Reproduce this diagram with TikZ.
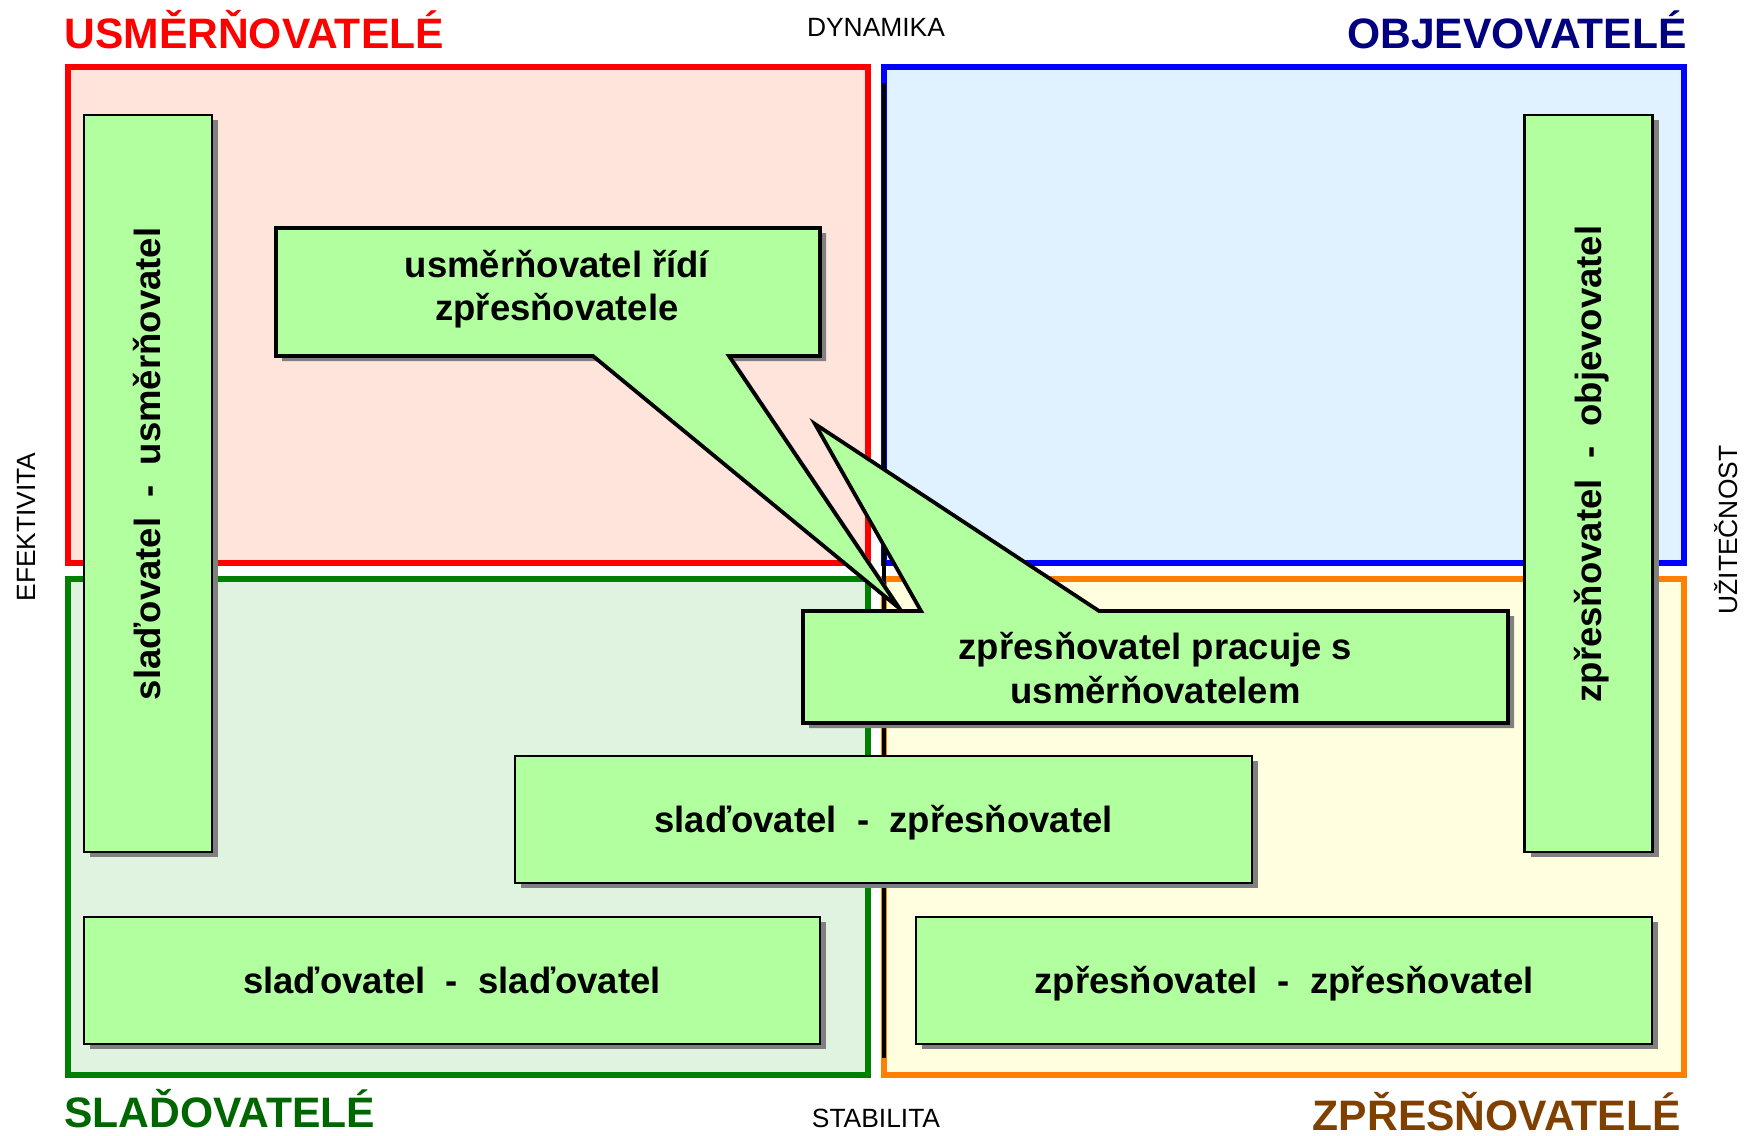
\documentclass[tikz,border=0pt]{standalone}
\usepackage{fontspec}
\setmainfont{Liberation Sans}
\usetikzlibrary{shadows}
\definecolor{qred}{RGB}{255,0,0}
\definecolor{qblue}{RGB}{0,0,255}
\definecolor{qgreen}{RGB}{0,128,0}
\definecolor{qorange}{RGB}{255,128,0}
\definecolor{fred}{RGB}{255,228,220}
\definecolor{fblue}{RGB}{224,242,255}
\definecolor{fgreen}{RGB}{224,242,224}
\definecolor{forange}{RGB}{255,255,224}
\definecolor{tred}{RGB}{255,0,0}
\definecolor{tnavy}{RGB}{0,0,128}
\definecolor{tgreen}{RGB}{0,102,0}
\definecolor{tbrown}{RGB}{128,64,0}
\definecolor{boxgreen}{RGB}{178,255,160}
\definecolor{shadowgray}{RGB}{128,128,128}
\begin{document}
\begin{tikzpicture}[x=0.5pt,y=-0.5pt,
  quadrant/.style={rectangle, line width=2.85pt, minimum width=400pt, minimum height=248pt, inner sep=0pt},
  gshadow/.style={drop shadow={shadow xshift=3pt, shadow yshift=-2.5pt, fill=shadowgray, opacity=1}},
  boxfont/.style={font=\bfseries\fontsize{18.25pt}{21.6pt}\selectfont},
  gbox/.style={rectangle, draw=black, line width=1.4pt, fill=boxgreen, gshadow, inner sep=0pt, boxfont, text height=16.5pt, text depth=3.9pt},
  vlabel/.style={rotate=90, inner sep=0pt, boxfont, text height=16.5pt, text depth=3.9pt},
  callout/.style={draw=black, line width=1.9pt, fill=boxgreen, gshadow},
  title/.style={inner sep=0pt, font=\bfseries\fontsize{21.3pt}{24pt}\selectfont},
  axislabel/.style={inner sep=0pt, font=\fontsize{13.2pt}{16pt}\selectfont},
  axisline/.style={draw=black, line width=2pt}
]
\useasboundingbox (0,0) rectangle (1749,1135);

% quadrants
\node[quadrant, draw=qred, fill=fred] (usm) at (468,315) {};
\node[quadrant, draw=qblue, fill=fblue] (obj) at (1284,315) {};
\node[quadrant, draw=qgreen, fill=fgreen] (slad) at (468,827) {};
\node[quadrant, draw=qorange, fill=forange] (zpr) at (1284,827) {};

% vertical axis line
\coordinate (axtop) at (884,83);
\coordinate (axbot) at (884,1058);
\draw[axisline] (axtop) -- (axbot);

% titles
\node[title, text=tred, anchor=base west] (tusm) at (64,48) {USMĚRŇOVATELÉ};
\node[title, text=tnavy, anchor=base east] (tobj) at (1687,48) {OBJEVOVATELÉ};
\node[title, text=tgreen, anchor=base west] (tslad) at (64,1127) {SLAĎOVATELÉ};
\node[title, text=tbrown, anchor=base east] (tzpr) at (1681,1130) {ZPŘESŇOVATELÉ};

% axis labels
\node[axislabel, anchor=base] (dyn) at (876,36) {DYNAMIKA};
\node[axislabel, anchor=base] (stab) at (876,1127) {STABILITA};
\node[axislabel, anchor=base, rotate=90] (efek) at (35,527) {EFEKTIVITA};
\node[axislabel, anchor=base, rotate=90] (uzit) at (1737,530) {UŽITEČNOST};

% vertical boxes
\node[gbox, minimum width=64pt, minimum height=368.5pt] (sladusm) at (148,483.5) {};
\node[vlabel] (sladusmtext) at (148,464) {slaďovatel\ \ -\ \ usměrňovatel};
\node[gbox, minimum width=64pt, minimum height=368.5pt] (zprobj) at (1588.5,483.5) {};
\node[vlabel] (zprobjtext) at (1588.5,464) {zpřesňovatel\ \ -\ \ objevovatel};

% horizontal boxes
\node[gbox, minimum width=368pt, minimum height=63.5pt] (sladslad) at (452,980.5) {slaďovatel\ \ -\ \ slaďovatel};
\node[gbox, minimum width=368pt, minimum height=63.5pt] (zprzpr) at (1284,980.5) {zpřesňovatel\ \ -\ \ zpřesňovatel};
\node[gbox, minimum width=368.5pt, minimum height=63.5pt] (sladzpr) at (883.5,819.5) {slaďovatel\ \ -\ \ zpřesňovatel};

% callout 1
\coordinate (c1a) at (276,228);
\coordinate (c1b) at (820,228);
\coordinate (c1c) at (820,356);
\coordinate (c1d) at (729,356);
\coordinate (c1tip) at (899,608);
\coordinate (c1e) at (593,356);
\coordinate (c1f) at (276,356);
\path[callout] (c1a) -- (c1b) -- (c1c) -- (c1d) -- (c1tip) -- (c1e) -- (c1f) -- cycle;
\node[boxfont, align=center, inner sep=0pt] (c1text) at (557,289) {usměrňovatel řídí\\zpřesňovatele};

% callout 2
\coordinate (c2a) at (803,611);
\coordinate (c2b) at (921,611);
\coordinate (c2tip) at (815,424);
\coordinate (c2c) at (1099,611);
\coordinate (c2d) at (1508,611);
\coordinate (c2e) at (1508,723);
\coordinate (c2f) at (803,723);
\path[callout] (c2a) -- (c2b) -- (c2tip) -- (c2c) -- (c2d) -- (c2e) -- (c2f) -- cycle;
\node[boxfont, align=center, inner sep=0pt] (c2text) at (1155.5,668) {zpřesňovatel pracuje s\\usměrňovatelem};
\end{tikzpicture}
\end{document}
